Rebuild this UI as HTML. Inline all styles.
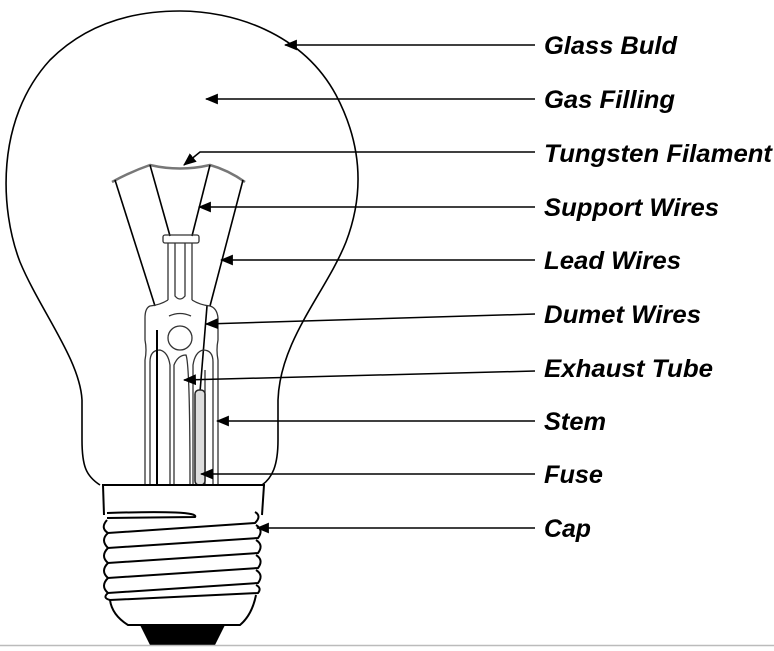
<!DOCTYPE html>
<html><head><meta charset="utf-8"><style>
html,body{margin:0;padding:0;background:#fff;}
svg{display:block;}
text{font-family:"Liberation Sans",Arial,sans-serif;font-weight:bold;font-style:italic;font-size:25px;fill:#000;}
</style></head><body>
<svg width="774" height="651" viewBox="0 0 774 651" xmlns="http://www.w3.org/2000/svg">
<defs><marker id="a" viewBox="0 0 12 10" refX="11" refY="5" markerWidth="13" markerHeight="11" markerUnits="userSpaceOnUse" orient="auto"><path d="M0,0 L12,5 L0,10 Z" fill="#000"/></marker></defs>
<!-- bulb outline -->
<path d="M100,485 C86,476 82,466 82,440 L82,400 C80,360 40,310 20,262 C0,210 -5,120 50,60 C90,20 140,11 180,11 C232,11 302,32 336,95 C365,150 362,200 346,242 C326,292 280,340 278,400 L278,440 C278,466 272,478 262,485" fill="none" stroke="#000" stroke-width="1.6"/>
<!-- filament -->
<path d="M112,182 Q130,172 150,165 Q180,172 210,165 Q228,170 245,182" fill="none" stroke="#777" stroke-width="2.5"/>
<g stroke="#000" stroke-width="1.6" fill="none">
<line x1="150" y1="165" x2="170" y2="236"/>
<line x1="210" y1="165" x2="192" y2="236"/>
<line x1="115" y1="180" x2="155" y2="306"/>
<line x1="243" y1="180" x2="210" y2="306"/>
<line x1="207" y1="306" x2="200" y2="392"/>
</g>
<g stroke="#333" stroke-width="1.3" fill="none">
<rect x="163" y="235" width="36" height="8" rx="2"/>
<path d="M168,243 L168,300 M175,243 L175,296 Q180,302 185,296 L185,243 M192,243 L192,300"/>
<path d="M168,300 Q160,305 150,306 Q145,308 145,318 L145,340 Q147,350 145,360 L145,485"/>
<path d="M192,300 Q200,305 210,306 Q217,308 218,318 L218,340 Q216,350 218,360 L218,485"/>
<path d="M169,316 Q180,311 191,316"/>
<circle cx="180" cy="338" r="12"/>
<path d="M150,485 L150,362 Q150,350 160,350 Q168,352 170,365 L170,485"/>
<path d="M174,485 L174,365 Q178,355 186,355 Q190,365 190,485"/>
<path d="M213,485 L213,362 Q213,350 203,350 Q195,352 193,365 L193,485"/>
<path d="M205,485 L205,370"/>
</g>
<line x1="157" y1="330" x2="157" y2="485" stroke="#000" stroke-width="2"/>
<rect x="195" y="390" width="10" height="95" rx="4" fill="#ddd" stroke="#222" stroke-width="1.5"/>
<!-- base -->
<g stroke="#000" stroke-width="2" fill="none">
<path d="M102,485 L265,485 M103,485 L104,515 M264,485 L262,515"/>
<path d="M107,513 Q200,510 195,517 L107,518"/>
<path d="M107,520 Q100,528 108,533 L255,523 Q262,516 255,512"/>
<path d="M108,533 Q100,540 108,548 L258,538 Q264,530 256,525"/>
<path d="M108,548 Q100,556 108,563 L258,553 Q264,545 256,540"/>
<path d="M108,563 Q100,571 108,578 L258,568 Q264,560 256,555"/>
<path d="M108,578 Q100,586 108,593 L258,583 Q264,575 256,570"/>
<path d="M108,593 Q102,598 110,600 L258,593 Q262,588 256,585"/>
<path d="M110,600 Q112,615 128,625 L240,625 Q252,615 256,595"/>
</g>
<path d="M140,625 L225,625 L215,645 L150,645 Z" fill="#000"/>
<line x1="0" y1="645.5" x2="774" y2="645.5" stroke="#bbb" stroke-width="1.5"/>
<!-- leaders -->
<g stroke="#000" stroke-width="1.5" fill="none" marker-end="url(#a)">
<line x1="535" y1="45" x2="285" y2="45"/>
<line x1="535" y1="99" x2="206" y2="99"/>
<path d="M535,152 L200,152 L184,165"/>
<line x1="535" y1="207" x2="199" y2="207"/>
<line x1="535" y1="260" x2="221" y2="260"/>
<line x1="535" y1="314" x2="206" y2="324"/>
<line x1="535" y1="371" x2="184" y2="380"/>
<line x1="535" y1="421" x2="217" y2="421"/>
<line x1="535" y1="474" x2="201" y2="474"/>
<line x1="535" y1="528" x2="257" y2="528"/>
</g>
<text x="544" y="54" textLength="133" lengthAdjust="spacingAndGlyphs">Glass Buld</text>
<text x="544" y="108" textLength="131" lengthAdjust="spacingAndGlyphs">Gas Filling</text>
<text x="544" y="162" textLength="228" lengthAdjust="spacingAndGlyphs">Tungsten Filament</text>
<text x="544" y="216" textLength="175" lengthAdjust="spacingAndGlyphs">Support Wires</text>
<text x="544" y="269" textLength="137" lengthAdjust="spacingAndGlyphs">Lead Wires</text>
<text x="544" y="323" textLength="157" lengthAdjust="spacingAndGlyphs">Dumet Wires</text>
<text x="544" y="377" textLength="169" lengthAdjust="spacingAndGlyphs">Exhaust Tube</text>
<text x="544" y="430" textLength="62" lengthAdjust="spacingAndGlyphs">Stem</text>
<text x="544" y="483" textLength="59" lengthAdjust="spacingAndGlyphs">Fuse</text>
<text x="544" y="537" textLength="47" lengthAdjust="spacingAndGlyphs">Cap</text>
</svg>
</body></html>
